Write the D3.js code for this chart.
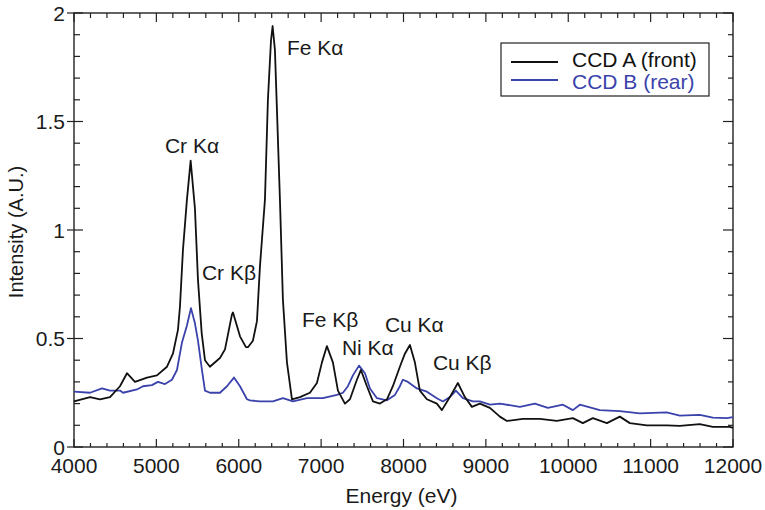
<!DOCTYPE html>
<html lang="en">
  <head>
    <meta charset="UTF-8" />
    <title>CCD spectra</title>
    <script src="https://d3js.org/d3.v7.min.js"></script>
    <style>
      body { margin: 0; background: #fff; }
      text { font-family: "Liberation Sans", Arial, sans-serif; fill: #1a1a1a; }
    </style>
  </head>
  <body>
    <div id="chart"></div>
    <script>
      // energy (eV) and intensity
      const energyA = [4000, 4195, 4315, 4437, 4558, 4643, 4740, 4886, 5007, 5129, 5201, 5262, 5286, 5323, 5371, 5416,
        5468, 5505, 5550, 5590, 5650, 5772, 5833, 5917, 5930, 6015, 6087, 6112, 6172, 6221, 6257, 6318, 6354, 6391,
        6411, 6439, 6464, 6500, 6536, 6585, 6646, 6743, 6864, 6949, 7010, 7070, 7143, 7204, 7289, 7350, 7434, 7483,
        7556, 7629, 7714, 7799, 7871, 7956, 8017, 8078, 8138, 8199, 8284, 8405, 8466, 8563, 8660, 8745, 8830, 8927,
        9049, 9170, 9255, 9449, 9655, 9862, 10056, 10177, 10299, 10469, 10626, 10748, 10954, 11197, 11354, 11597,
        11755, 11961, 12000];
      const intensityA = [0.21, 0.23, 0.22, 0.23, 0.28, 0.34, 0.30, 0.32, 0.33, 0.37, 0.43, 0.54, 0.645, 0.91, 1.14, 1.32,
        1.10, 0.77, 0.525, 0.40, 0.37, 0.41, 0.45, 0.61, 0.62, 0.51, 0.46, 0.46, 0.49, 0.58, 0.83, 1.14, 1.60, 1.87,
        1.94, 1.83, 1.55, 1.14, 0.68, 0.39, 0.22, 0.23, 0.25, 0.295, 0.39, 0.465, 0.39, 0.26, 0.20, 0.22, 0.31, 0.355,
        0.28, 0.21, 0.20, 0.22, 0.28, 0.37, 0.43, 0.47, 0.39, 0.26, 0.22, 0.20, 0.17, 0.23, 0.295, 0.23, 0.185, 0.20,
        0.18, 0.14, 0.12, 0.13, 0.13, 0.12, 0.133, 0.11, 0.133, 0.11, 0.14, 0.11, 0.10, 0.10, 0.097, 0.105,
        0.093, 0.093, 0.088];

      const energyB = [4000, 4195, 4340, 4437, 4558, 4595, 4765, 4837, 4946, 5019, 5104, 5189, 5250, 5310, 5371, 5420,
        5468, 5505, 5553, 5590, 5650, 5772, 5857, 5942, 6015, 6100, 6136, 6257, 6415, 6536, 6658, 6828, 7022, 7192,
        7265, 7325, 7386, 7460, 7532, 7593, 7678, 7799, 7896, 7956, 7993, 8054, 8163, 8284, 8405, 8478, 8563, 8636,
        8721, 8842, 8927, 9049, 9170, 9413, 9595, 9753, 9935, 10056, 10141, 10383, 10626, 10869, 11196, 11354, 11597,
        11755, 11924, 12000];
      const intensityB = [0.255, 0.25, 0.27, 0.26, 0.26, 0.25, 0.265, 0.28, 0.285, 0.30, 0.29, 0.31, 0.355, 0.48, 0.56, 0.64,
        0.57, 0.49, 0.355, 0.26, 0.25, 0.25, 0.28, 0.32, 0.28, 0.22, 0.215, 0.21, 0.21, 0.225, 0.21, 0.225, 0.225, 0.24,
        0.25, 0.28, 0.33, 0.375, 0.34, 0.27, 0.225, 0.215, 0.24, 0.28, 0.31, 0.30, 0.27, 0.255, 0.225, 0.21, 0.23, 0.26,
        0.225, 0.21, 0.21, 0.195, 0.20, 0.185, 0.20, 0.18, 0.195, 0.17, 0.195, 0.17, 0.165, 0.155, 0.16, 0.145, 0.148,
        0.135, 0.133, 0.138];

      const seriesNames = ['CCD A (front)', 'CCD B (rear)'];
      const seriesColors = ['#111111', '#3a42ab'];

      const xTicks = [4000, 5000, 6000, 7000, 8000, 9000, 10000, 11000, 12000];
      const yTicks = [0, 0.5, 1, 1.5, 2];
      const yTickLabels = ['0', '0.5', '1', '1.5', '2'];

      // peak labels: text, energy and intensity where the text starts
      const peakLabels = ['Cr K\u03b1', 'Fe K\u03b1', 'Cr K\u03b2', 'Fe K\u03b2', 'Ni K\u03b1', 'Cu K\u03b1', 'Cu K\u03b2'];
      const peakLabelE = [5104, 6585, 5553, 6767, 7252, 7774, 8357];
      const peakLabelI = [1.355, 1.806, 0.77, 0.553, 0.424, 0.53, 0.355];

      const W = 765, H = 510;
      const margin = { top: 13, right: 32, bottom: 63, left: 74 };
      const width = W - margin.left - margin.right;
      const height = H - margin.top - margin.bottom;

      const svg = d3.select('#chart')
        .append('svg')
          .attr('width', W)
          .attr('height', H)
        .append('g')
          .attr('transform', `translate(${margin.left},${margin.top})`);

      const x = d3.scaleLinear().domain([4000, 12000]).range([0, width]);
      const y = d3.scaleLinear().domain([0, 2]).range([height, 0]);

      const axisColor = '#222';
      const fs = 21;

      // minor ticks every 200 eV / 0.1
      const xMinor = d3.range(4000, 12001, 200);
      const yMinor = d3.range(0, 20.01, 1).map(v => v / 10);

      const ticks = svg.append('g').attr('stroke', axisColor).attr('stroke-width', 1.2);
      xMinor.forEach(v => {
        const major = v % 1000 === 0;
        const len = major ? 8 : 4;
        ticks.append('line').attr('x1', x(v)).attr('x2', x(v)).attr('y1', height).attr('y2', height - len);
        ticks.append('line').attr('x1', x(v)).attr('x2', x(v)).attr('y1', 0).attr('y2', len + 1);
      });
      yMinor.forEach(v => {
        const major = Math.abs(v * 2 - Math.round(v * 2)) < 1e-6;
        ticks.append('line')
          .attr('x1', major ? -7 : 0).attr('x2', major ? 9 : 6)
          .attr('y1', y(v)).attr('y2', y(v));
        ticks.append('line')
          .attr('x1', width).attr('x2', width - (major ? 10 : 5))
          .attr('y1', y(v)).attr('y2', y(v));
      });

      // frame
      svg.append('rect')
        .attr('width', width)
        .attr('height', height)
        .attr('fill', 'none')
        .attr('stroke', axisColor)
        .attr('stroke-width', 1.4);

      svg.append('g')
        .selectAll('text')
        .data(xTicks)
        .join('text')
          .attr('x', d => x(d))
          .attr('y', height + 26)
          .attr('text-anchor', 'middle')
          .attr('font-size', fs)
          .text(d => d);

      svg.append('g')
        .selectAll('text')
        .data(yTicks)
        .join('text')
          .attr('x', -9)
          .attr('y', d => y(d))
          .attr('dy', '0.36em')
          .attr('text-anchor', 'end')
          .attr('font-size', fs)
          .text((d, i) => yTickLabels[i]);

      svg.append('text')
        .attr('x', width / 2 - 2)
        .attr('y', height + 56)
        .attr('text-anchor', 'middle')
        .attr('font-size', fs)
        .text('Energy (eV)');

      svg.append('text')
        .attr('transform', `translate(${-51},${y(1) + 2}) rotate(-90)`)
        .attr('text-anchor', 'middle')
        .attr('font-size', 20)
        .text('Intensity (A.U.)');

      const line = d3.line()
        .x(d => x(d[0]))
        .y(d => y(d[1]));

      const dataB = energyB.map((e, i) => [e, intensityB[i]]);
      const dataA = energyA.map((e, i) => [e, intensityA[i]]);

      svg.append('path')
        .datum(dataB)
        .attr('fill', 'none')
        .attr('stroke', seriesColors[1])
        .attr('stroke-width', 1.8)
        .attr('stroke-linejoin', 'round')
        .attr('d', line);

      svg.append('path')
        .datum(dataA)
        .attr('fill', 'none')
        .attr('stroke', seriesColors[0])
        .attr('stroke-width', 1.8)
        .attr('stroke-linejoin', 'round')
        .attr('d', line);

      svg.append('g')
        .selectAll('text')
        .data(peakLabels)
        .join('text')
          .attr('x', (d, i) => x(peakLabelE[i]))
          .attr('y', (d, i) => y(peakLabelI[i]))
          .attr('font-size', fs)
          .text(d => d);

      // legend
      const legend = svg.append('g')
        .attr('transform', `translate(${501 - margin.left},${43 - margin.top})`);
      legend.append('rect')
        .attr('width', 208)
        .attr('height', 53)
        .attr('fill', '#fff')
        .attr('stroke', axisColor)
        .attr('stroke-width', 1.2);
      seriesNames.forEach((name, i) => {
        const ly = 19 + i * 18;
        legend.append('line')
          .attr('x1', 10).attr('x2', 57)
          .attr('y1', ly).attr('y2', ly)
          .attr('stroke', seriesColors[i])
          .attr('stroke-width', 1.8);
        legend.append('text')
          .attr('x', 71)
          .attr('y', 24 + i * 22)
          .attr('font-size', fs)
          .style('fill', i === 1 ? seriesColors[1] : '#111')
          .text(name);
      });
    </script>
  </body>
</html>
